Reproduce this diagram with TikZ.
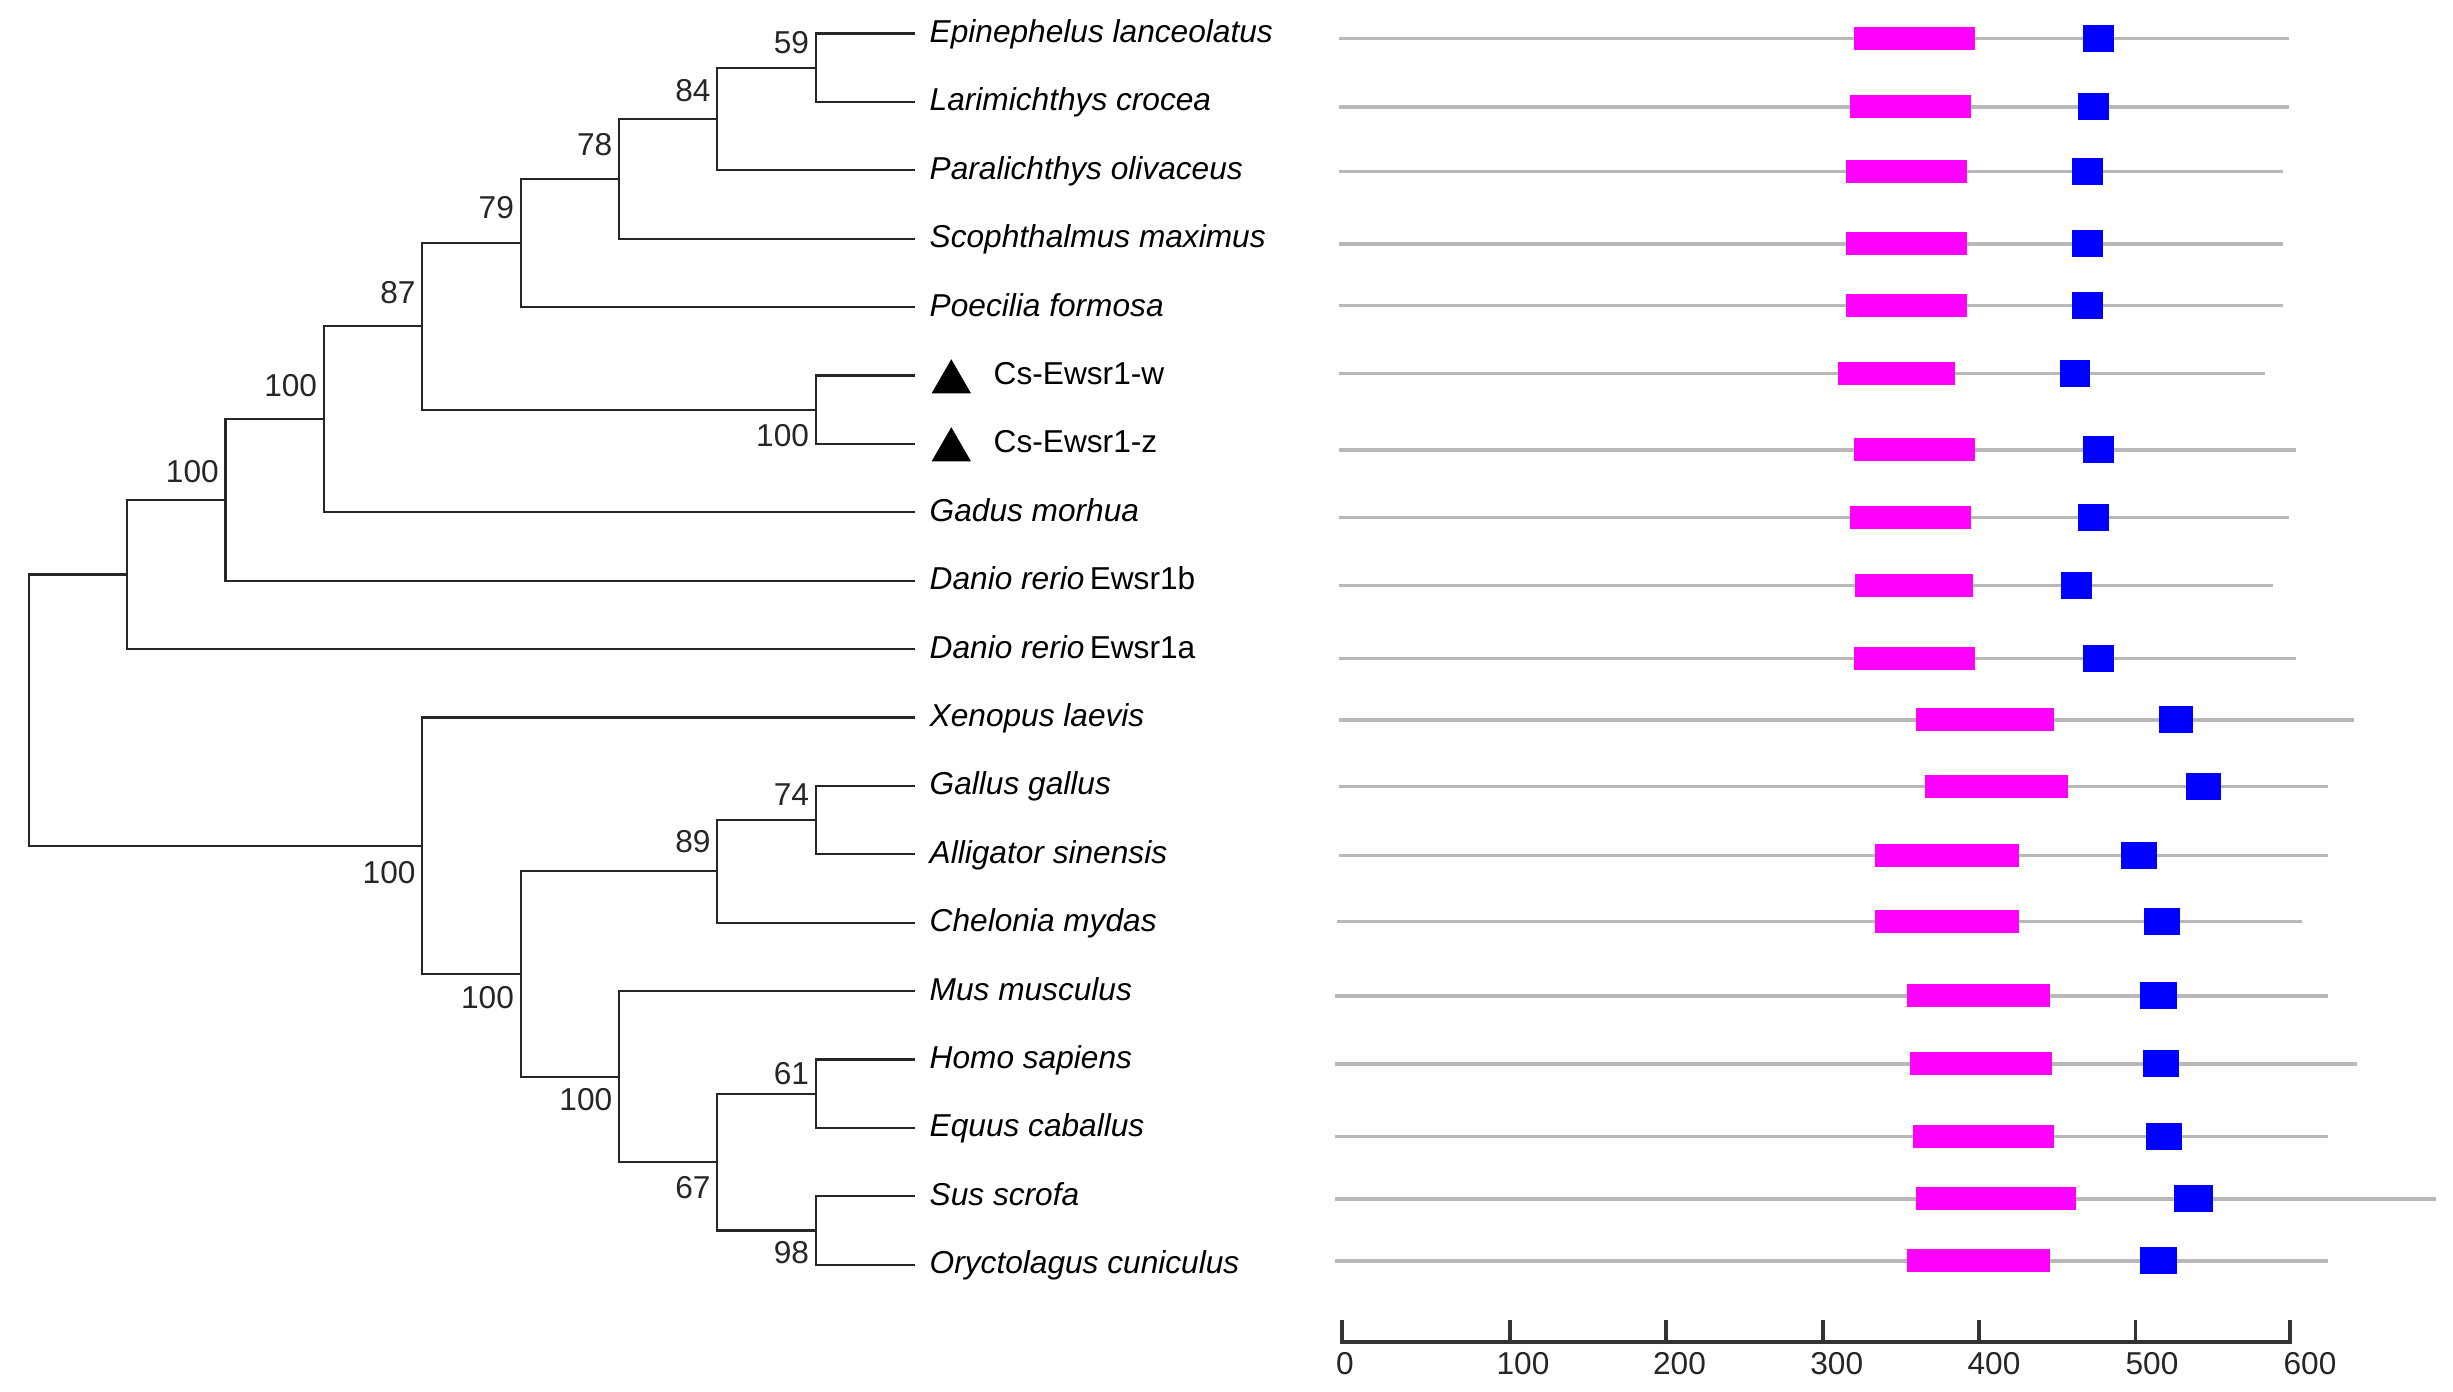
\documentclass[tikz,border=0pt]{standalone}
\usepackage{fontspec}
\setmainfont{Liberation Sans}
\usetikzlibrary{shapes.geometric}
\newcommand\figfont{\fontsize{9pt}{11pt}\selectfont}
\definecolor{backbonegray}{HTML}{B8B8B8}
\definecolor{domainpink}{HTML}{FF00FF}
\definecolor{domainblue}{HTML}{0000FF}
\definecolor{axisgray}{HTML}{333333}
\begin{document}
\begin{tikzpicture}[x=0.01cm,y=-0.01cm,
  branch/.style={draw=black!85, line width=0.6pt},
  species/.style={font=\figfont\itshape, anchor=base west, inner sep=0pt},
  plainlab/.style={font=\figfont, anchor=base west, inner sep=0pt},
  boot/.style={font=\figfont, anchor=east, inner sep=0pt, text=black!85},
  tri/.style={regular polygon, regular polygon sides=3, fill=black, inner sep=0pt, minimum size=0.455cm},
  backbone/.style={draw=backbonegray, line width=0.9pt},
  pinkbox/.style={fill=domainpink},
  bluebox/.style={fill=domainblue},
  axisline/.style={draw=axisgray, line width=1.1pt},
  ticklab/.style={font=\figfont, anchor=center, inner sep=0pt, text=black!85}]
\useasboundingbox (0,0) rectangle (2453,1392);

% leaf end points
\foreach \i/\y in {0/33.5,1/101.9,2/170.3,3/238.7,4/307.1,5/375.5,6/443.9,7/512.3,8/580.7,9/649.1,10/717.5,11/785.9,12/854.3,13/922.7,14/991.1,15/1059.5,16/1127.9,17/1196.3,18/1264.7}
  \coordinate (l\i) at (915,\y);

% internal nodes
\coordinate (nH) at (815.7,67.7);
\coordinate (nG) at (717.3,119);
\coordinate (nF) at (619,178.85);
\coordinate (nE) at (520.6,243);
\coordinate (nCs) at (815.7,409.7);
\coordinate (nD) at (422.2,326.35);
\coordinate (nC) at (323.8,419.3);
\coordinate (nB) at (225.45,500);
\coordinate (nA) at (127.1,574.55);
\coordinate (nL) at (815.7,820.1);
\coordinate (nK) at (717.3,871.4);
\coordinate (nO) at (815.7,1093.7);
\coordinate (nP) at (815.7,1230.5);
\coordinate (nN) at (717.3,1162.1);
\coordinate (nM) at (619,1076.6);
\coordinate (nJ) at (520.6,974);
\coordinate (nI) at (422.2,845.75);
\coordinate (nR) at (28.7,710.15);

% branches
\draw[branch] (nH) |- (l0);  \draw[branch] (nH) |- (l1);
\draw[branch] (nG) |- (nH);  \draw[branch] (nG) |- (l2);
\draw[branch] (nF) |- (nG);  \draw[branch] (nF) |- (l3);
\draw[branch] (nE) |- (nF);  \draw[branch] (nE) |- (l4);
\draw[branch] (nCs) |- (l5); \draw[branch] (nCs) |- (l6);
\draw[branch] (nD) |- (nE);  \draw[branch] (nD) |- (nCs);
\draw[branch] (nC) |- (nD);  \draw[branch] (nC) |- (l7);
\draw[branch] (nB) |- (nC);  \draw[branch] (nB) |- (l8);
\draw[branch] (nA) |- (nB);  \draw[branch] (nA) |- (l9);
\draw[branch] (nR) |- (nA);  \draw[branch] (nR) |- (nI);
\draw[branch] (nI) |- (l10); \draw[branch] (nI) |- (nJ);
\draw[branch] (nJ) |- (nK);  \draw[branch] (nJ) |- (nM);
\draw[branch] (nK) |- (nL);  \draw[branch] (nK) |- (l13);
\draw[branch] (nL) |- (l11); \draw[branch] (nL) |- (l12);
\draw[branch] (nM) |- (l14); \draw[branch] (nM) |- (nN);
\draw[branch] (nN) |- (nO);  \draw[branch] (nN) |- (nP);
\draw[branch] (nO) |- (l15); \draw[branch] (nO) |- (l16);
\draw[branch] (nP) |- (l17); \draw[branch] (nP) |- (l18);

% bootstrap values
\node[boot] (bH) at (809.7,42.3) {59};
\node[boot] (bG) at (711.3,91) {84};
\node[boot] (bF) at (613,145) {78};
\node[boot] (bE) at (514.6,208) {79};
\node[boot] (bD) at (416.2,293) {87};
\node[boot] (bC) at (317.8,385.5) {100};
\node[boot] (bB) at (219.45,472) {100};
\node[boot] (bCs) at (809.7,436) {100};
\node[boot] (bL) at (809.7,794.4) {74};
\node[boot] (bK) at (711.3,841.5) {89};
\node[boot] (bI) at (416.2,873) {100};
\node[boot] (bJ) at (514.6,998) {100};
\node[boot] (bM) at (613,1100) {100};
\node[boot] (bN) at (711.3,1187.6) {67};
\node[boot] (bO) at (809.7,1073.5) {61};
\node[boot] (bP) at (809.7,1253) {98};

% species labels
\node[species] (s0) at (929,42.5) {Epinephelus lanceolatus};
\node[species] (s1) at (929,110.9) {Larimichthys crocea};
\node[species] (s2) at (929,179.3) {Paralichthys olivaceus};
\node[species] (s3) at (929,247.7) {Scophthalmus maximus};
\node[species] (s4) at (929,316.1) {Poecilia formosa};
\node[tri] (tw) at (951.3,382) {};
\node[plainlab] (s5) at (993,384.5) {Cs-Ewsr1-w};
\node[tri] (tz) at (951.3,450) {};
\node[plainlab] (s6) at (993,452.9) {Cs-Ewsr1-z};
\node[species] (s7) at (929,521.3) {Gadus morhua};
\node[plainlab] (s8) at (929,589.7) {\textit{Danio rerio}\,Ewsr1b};
\node[plainlab] (s9) at (929,658.1) {\textit{Danio rerio}\,Ewsr1a};
\node[species] (s10) at (929,726.5) {Xenopus laevis};
\node[species] (s11) at (929,794.9) {Gallus gallus};
\node[species] (s12) at (929,863.3) {Alligator sinensis};
\node[species] (s13) at (929,931.7) {Chelonia mydas};
\node[species] (s14) at (929,1000.1) {Mus musculus};
\node[species] (s15) at (929,1068.5) {Homo sapiens};
\node[species] (s16) at (929,1136.9) {Equus caballus};
\node[species] (s17) at (929,1205.3) {Sus scrofa};
\node[species] (s18) at (929,1273.7) {Oryctolagus cuniculus};

% domain architecture rows: y / start / end / pink1 / pink2 / blue1 / blue2
\foreach \y/\a/\b/\pa/\pb/\ba/\bb in {
  38.4/1339/2289/1853.7/1975/2083/2114,
  107/1339/2289/1850/1971.3/2078/2109,
  171.4/1339/2283/1846/1967/2072/2103,
  244/1339/2283/1846/1967/2072/2103,
  305.4/1339/2283/1846/1967/2072/2103,
  373.2/1339/2264.7/1838/1955/2059.6/2089.7,
  450/1339/2296/1853.7/1975/2083/2114,
  517.9/1339/2289/1850/1971/2078/2109,
  585.7/1339/2272.8/1855/1972.8/2061/2092,
  658.5/1339/2296/1853.7/1975/2083/2114,
  720/1339/2353.7/1916/2054.4/2158.8/2193.4,
  786.3/1339/2328/1925/2068.4/2186/2220.6,
  855.9/1339/2328/1875/2019/2120.6/2157.4,
  921.6/1336.8/2302/1875/2019/2144/2180,
  996/1335/2328/1906.6/2050/2140.4/2176.5,
  1064/1335/2357/1909.6/2052/2142.6/2178.7,
  1136.5/1335/2328/1912.5/2054.4/2145.6/2181.6,
  1199/1335/2436/1916/2075.7/2173.5/2213,
  1261/1335/2328/1906.6/2050/2140.4/2176.5}
{
  \draw[backbone] (\a,\y) -- (\b,\y);
  \fill[pinkbox] (\pa,\y-11.5) rectangle (\pb,\y+11.5);
  \fill[bluebox] (\ba,\y-13.5) rectangle (\bb,\y+13.5);
}

% scale axis
\coordinate (ax0) at (1342.3,1342);
\coordinate (ax6) at (2290.4,1342);
\draw[axisline] (ax0) -- (ax6);
\foreach \x in {1342.3,1509.7,1666.2,1822.6,1979,2135.5,2290.4}
  \draw[axisline] (\x,1344) -- (\x,1319.7);
\node[ticklab] (t0) at (1345,1363.5) {0};
\node[ticklab] (t1) at (1523,1363.5) {100};
\node[ticklab] (t2) at (1679.5,1363.5) {200};
\node[ticklab] (t3) at (1836.7,1363.5) {300};
\node[ticklab] (t4) at (1994,1363.5) {400};
\node[ticklab] (t5) at (2152,1363.5) {500};
\node[ticklab] (t6) at (2310,1363.5) {600};
\end{tikzpicture}
\end{document}
